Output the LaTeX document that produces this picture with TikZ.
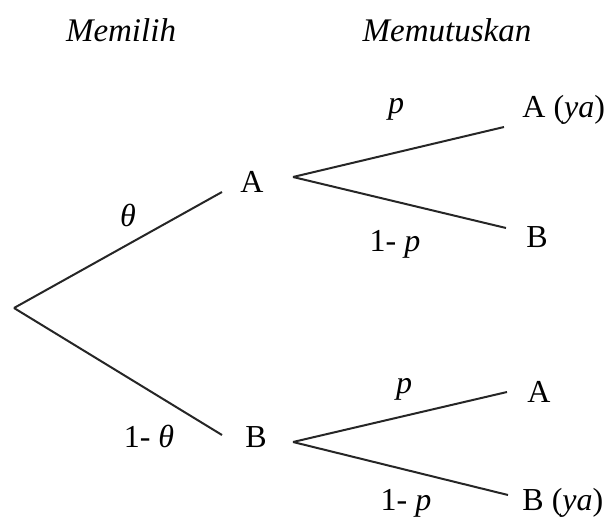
\documentclass[tikz,border=0pt]{standalone}
\usepackage{fontspec}
\setmainfont{Liberation Serif}
\usetikzlibrary{positioning}

\begin{document}
\begin{tikzpicture}[
                x=0.5pt, y=-0.5pt,
                    head/.style = {anchor=base, inner sep=0pt, font=\fontsize{16.5}{20}\selectfont\itshape},
                    choice/.style = {anchor=base west, inner sep=0pt, font=\fontsize{16}{19}\selectfont},
                    prob/.style = {anchor=base, inner sep=0pt, font=\fontsize{16}{19}\selectfont},
                    branch/.style = {line width=1pt, draw=black!85}
                ]
                \useasboundingbox (0,0) rectangle (605,519);

                \node[head] (memilih) at (121,42) {Memilih};
                \node[head] (memutuskan) at (447,42) {Memutuskan};

                % first stage
                \coordinate (root) at (14,308);
                \node[choice] (a1) at (240,192) {A};
                \node[choice] (b1) at (245,447) {B};
                \draw[branch] (root) -- ([shift={(-18,0)}]a1.base west);
                \draw[branch] (root) -- ([shift={(-23,-12)}]b1.base west);
                \node[prob] (theta) at (128,227) {\textit{θ}};
                \node[prob] (ntheta) at (149,447) {1- \textit{θ}};

                % second stage after A
                \coordinate (fa) at (293,177);
                \node[choice] (aa) at (522,118) {A (\textit{ya})};
                \node[choice] (ab) at (526,247) {B};
                \draw[branch] (fa) -- ([shift={(-18,9)}]aa.base west);
                \draw[branch] (fa) -- ([shift={(-20,-19)}]ab.base west);
                \node[prob] (pa) at (396,113) {\textit{p}};
                \node[prob] (npa) at (395,251) {1- \textit{p}};

                % second stage after B
                \coordinate (fb) at (293,442);
                \node[choice] (ba) at (527,402) {A};
                \node[choice] (bb) at (522,510) {B (\textit{ya})};
                \draw[branch] (fb) -- ([shift={(-14,-15)}]bb.base west);
                \draw[branch] (fb) -- ([shift={(-20,-10)}]ba.base west);
                \node[prob] (pb) at (404,393) {\textit{p}};
                \node[prob] (npb) at (406,510) {1- \textit{p}};

            \end{tikzpicture}
\end{document}
